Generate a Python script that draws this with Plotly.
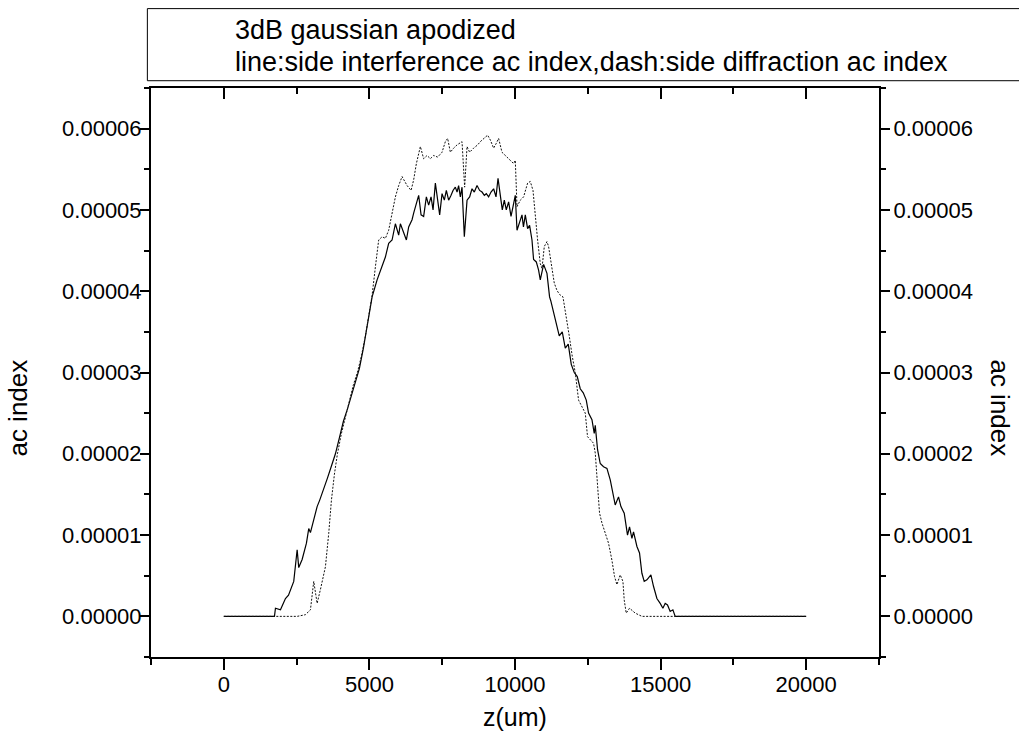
import plotly.graph_objects as go

# ---- data (z in um, ac index in units of 1e-5) ----
z_interference = [0, 1740, 1774, 1946, 2117, 2222, 2402, 2519, 2574, 2690, 2838, 2917, 2975, 3089, 3205,
                  3294, 3421, 3559, 3696, 3833, 3971, 4108, 4245, 4383, 4520, 4657, 4794, 4932,
                  5093, 5264, 5436, 5549, 5662, 5779, 5892, 6006, 6064, 6177, 6270, 6349, 6465,
                  6520, 6637, 6692, 6774, 6863, 6956, 7035, 7117, 7186, 7265, 7344, 7413, 7495,
                  7574, 7642, 7721, 7804, 7872, 7951, 8010, 8064, 8123, 8181, 8260, 8353, 8442,
                  8524, 8603, 8696, 8785, 8868, 8947, 9015, 9094, 9176, 9266, 9348, 9417, 9496,
                  9564, 9633, 9701, 9781, 9863, 9932, 10010, 10069, 10170, 10240, 10290, 10354,
                  10433, 10501, 10583, 10638, 10731, 10810, 10868, 10927, 10982, 11098, 11187,
                  11230, 11314, 11417, 11520, 11623, 11726, 11829, 11932, 12035, 12138, 12241,
                  12344, 12447, 12526, 12643, 12721, 12756, 12835, 12927, 13041, 13157, 13271,
                  13442, 13555, 13638, 13751, 13864, 13933, 14015, 14070, 14187, 14276, 14358,
                  14437, 14530, 14667, 14756, 14873, 14986, 15079, 15158, 15237, 15329, 15422,
                  15501, 20000]
ac_interference_e5 = [0, 0, 0.10, 0.08, 0.22, 0.26, 0.43, 0.82, 0.60, 0.70, 0.90, 1.08, 1.03, 1.19,
                      1.35, 1.43, 1.55, 1.70, 1.85, 2.00, 2.20, 2.40, 2.55, 2.72, 2.90, 3.05, 3.30, 3.60,
                      3.93, 4.14, 4.30, 4.42, 4.59, 4.63, 4.83, 4.69, 4.83, 4.73, 4.63, 4.79, 4.88,
                      4.96, 5.12, 5.18, 4.94, 4.92, 5.16, 5.06, 5.16, 5.00, 5.33, 5.08, 4.94, 5.20,
                      5.12, 5.24, 5.12, 5.18, 5.24, 5.28, 5.22, 5.30, 5.16, 5.28, 4.67, 5.12, 5.16,
                      5.26, 5.22, 5.30, 5.24, 5.22, 5.18, 5.20, 5.16, 5.22, 5.26, 5.16, 5.39, 5.18,
                      5.00, 5.12, 5.00, 5.10, 4.92, 5.04, 5.18, 4.75, 4.88, 4.94, 4.79, 4.94,
                      4.77, 4.81, 4.63, 4.39, 4.36, 4.26, 4.14, 4.26, 4.33, 4.22, 3.93,
                      3.88, 3.75, 3.60, 3.45, 3.50, 3.30, 3.35, 3.10, 3.00, 2.95, 2.80,
                      2.75, 2.66, 2.50, 2.42, 2.25, 2.35, 2.05, 1.88, 1.84, 1.82, 1.68,
                      1.37, 1.47, 1.35, 1.27, 1.00, 1.10, 0.96, 1.04, 0.86, 0.78, 0.53,
                      0.43, 0.45, 0.51, 0.37, 0.22, 0.16, 0.10, 0.16, 0.14, 0.06, 0.08,
                      0, 0]

z_diffraction = [0, 2519, 2800, 2975, 3089, 3205, 3318, 3490, 3603, 3696, 3799, 3902, 4039, 4176,
                 4314, 4451, 4588, 4725, 4863, 5000, 5093, 5206, 5319, 5436, 5549, 5662, 5779,
                 5892, 6006, 6122, 6294, 6431, 6520, 6613, 6750, 6863, 6980, 7093, 7207, 7344,
                 7495, 7608, 7687, 7780, 7893, 8010, 8181, 8271, 8353, 8442, 8579, 8717, 8809,
                 8947, 9060, 9153, 9266, 9358, 9437, 9553, 9725, 9863, 9952, 10010, 10069,
                 10182, 10295, 10433, 10525, 10618, 10697, 10776, 10868, 10927, 11006, 11098,
                 11153, 11270, 11349, 11441, 11531, 11647, 11760, 11863, 11966, 12069, 12183,
                 12413, 12491, 12584, 12697, 12756, 12814, 12903, 12985, 13099, 13212, 13329,
                 13418, 13500, 13613, 13706, 13751, 13819, 13933, 14128, 14358, 20000]
ac_diffraction_e5 = [0, 0, 0.02, 0.08, 0.43, 0.16, 0.33, 0.61, 1.02, 1.43, 1.75, 2.00, 2.25, 2.45,
                     2.65, 2.85, 3.00, 3.20, 3.45, 3.75, 3.95, 4.30, 4.63, 4.67, 4.65, 4.75, 4.94,
                     5.16, 5.30, 5.41, 5.30, 5.24, 5.37, 5.57, 5.78, 5.63, 5.67, 5.63, 5.67, 5.65,
                     5.71, 5.84, 5.88, 5.71, 5.76, 5.80, 5.84, 5.28, 5.78, 5.71, 5.76, 5.80, 5.84,
                     5.88, 5.92, 5.86, 5.76, 5.82, 5.88, 5.71, 5.65, 5.61, 5.57, 5.61, 5.04,
                     5.12, 5.16, 5.33, 5.35, 5.24, 4.92, 4.63, 4.34, 4.28, 4.55, 4.61,
                     4.55, 4.26, 4.10, 4.01, 3.96, 3.93, 3.70, 3.45, 3.20, 3.00, 2.66,
                     2.50, 2.21, 2.17, 2.13, 2.01, 1.72, 1.27, 1.15, 1.02, 0.90, 0.69,
                     0.49, 0.39, 0.51, 0.43, 0.20, 0.04, 0.10, 0.04, 0, 0]

SCALE = 1e-5
x_ticks = [0, 5000, 10000, 15000, 20000]
x_ticktext = ["0", "5000", "10000", "15000", "20000"]
y_ticks = [0, 0.00001, 0.00002, 0.00003, 0.00004, 0.00005, 0.00006]
y_ticktext = ["0.00000", "0.00001", "0.00002", "0.00003", "0.00004", "0.00005", "0.00006"]
x_range = [-2500, 22500]
y_range = [-0.000005, 0.000065]

legend_line1 = "3dB gaussian apodized"
legend_line2 = "line:side interference ac index,dash:side diffraction ac index"

FONT = "Liberation Sans, Arial, sans-serif"
FS_TICK = 22
FS_LEGEND = 27
FS_TITLE = 25

fig = go.Figure()
fig.add_trace(go.Scatter(x=z_interference, y=[v * SCALE for v in ac_interference_e5],
                         mode="lines", line=dict(color="black", width=1.2),
                         showlegend=False, hoverinfo="skip"))
fig.add_trace(go.Scatter(x=z_diffraction, y=[v * SCALE for v in ac_diffraction_e5],
                         mode="lines", line=dict(color="#111", width=1, dash="2px,1.5px"),
                         showlegend=False, hoverinfo="skip"))
# invisible trace to host the mirrored (top / right) axes
fig.add_trace(go.Scatter(x=z_interference, y=[v * SCALE for v in ac_interference_e5],
                         xaxis="x2", yaxis="y2", mode="lines", opacity=0,
                         line=dict(width=0), showlegend=False, hoverinfo="skip"))

common_x = dict(range=x_range, showgrid=False, zeroline=False, showline=True,
                linecolor="black", linewidth=2, tickcolor="black", tickwidth=1.5,
                tickvals=x_ticks, ticktext=x_ticktext, ticklen=11)
common_y = dict(range=y_range, showgrid=False, zeroline=False, showline=True,
                linecolor="black", linewidth=2, tickcolor="black", tickwidth=1.5,
                tickvals=y_ticks, ticktext=y_ticktext, ticklen=9,
                minor=dict(dtick=0.000005, tick0=0, ticklen=5, tickwidth=1.5, tickcolor="black"))

fig.update_layout(
    width=1019, height=751,
    margin=dict(l=151, r=140, t=88, b=94),
    paper_bgcolor="white", plot_bgcolor="white",
    font=dict(family=FONT, size=FS_TICK, color="black"),
    xaxis=dict(**common_x, ticks="outside", side="bottom",
               minor=dict(dtick=2500, tick0=0, ticklen=6, tickwidth=1.5, tickcolor="black"),
               tickfont=dict(size=FS_TICK), ticklabelstandoff=-4),
    xaxis2=dict(**common_x,
                minor=dict(dtick=2500, tick0=0, ticklen=6, tickwidth=1.5,
                           tickcolor="black", ticks="inside"),
                ticks="inside", side="top", overlaying="x", anchor="y",
                showticklabels=False),
    yaxis=dict(**common_y, ticks="outside", side="left",
               tickfont=dict(size=FS_TICK), ticklabelstandoff=-6),
    yaxis2=dict(**common_y, ticks="outside", side="right", overlaying="y", anchor="x",
                tickfont=dict(size=FS_TICK), ticklabelstandoff=-1),
    shapes=[dict(type="rect", xref="paper", yref="paper",
                 x0=-0.005, x1=1.26, y0=1.0128, y1=1.1395,
                 line=dict(color="black", width=1), fillcolor="rgba(0,0,0,0)")],
    annotations=[
        dict(text=legend_line1, xref="paper", yref="paper", x=0.113, y=1.1026,
             xanchor="left", yanchor="middle", showarrow=False, font=dict(size=FS_LEGEND)),
        dict(text=legend_line2, xref="paper", yref="paper", x=0.113, y=1.0461,
             xanchor="left", yanchor="middle", showarrow=False, font=dict(size=FS_LEGEND)),
        dict(text="ac index", xref="paper", yref="paper", x=-0.182, y=0.4375,
             xanchor="center", yanchor="middle", textangle=-90, showarrow=False,
             font=dict(size=FS_TITLE + 1)),
        dict(text="ac index", xref="paper", yref="paper", x=1.1657, y=0.4375,
             xanchor="center", yanchor="middle", textangle=90, showarrow=False,
             font=dict(size=FS_TITLE + 1)),
        dict(text="z(um)", xref="paper", yref="paper", x=0.5, y=-0.1055,
             xanchor="center", yanchor="middle", showarrow=False, font=dict(size=FS_TITLE)),
    ],
)

fig.write_html("out.html")
